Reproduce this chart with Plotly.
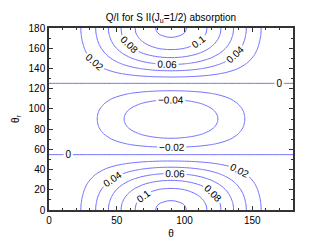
import plotly.graph_objects as go
import numpy as np

# Angle grids (degrees)
theta = [0, 5, 10, 15, 20, 25, 30, 35, 40, 45, 50, 55, 60, 65, 70, 75, 80, 85, 90,
         95, 100, 105, 110, 115, 120, 125, 130, 135, 140, 145, 150, 155, 160, 165, 170, 175, 180]
theta_r = list(theta)

prof_theta = [0.0005, 0.0076, 0.0302, 0.0670, 0.1170, 0.1786, 0.25, 0.3290, 0.4132, 0.5,
              0.5868, 0.6710, 0.75, 0.8214, 0.8830, 0.9330, 0.9698, 0.9924, 1.0,
              0.9924, 0.9698, 0.9330, 0.8830, 0.8214, 0.75, 0.6710, 0.5868, 0.5,
              0.4132, 0.3290, 0.25, 0.1786, 0.1170, 0.0670, 0.0302, 0.0076, 0.0005]

prof_theta_r = [0.125, 0.1236, 0.1193, 0.1124, 0.1031, 0.0915, 0.0781, 0.0633, 0.0475,
                0.0313, 0.0150, -0.0008, -0.0148, -0.0274, -0.0383, -0.0471, -0.0537,
                -0.0577, -0.059,
                -0.0577, -0.0537, -0.0471, -0.0383, -0.0274, -0.0148, -0.0008, 0.0150,
                0.0313, 0.0475, 0.0633, 0.0781, 0.0915, 0.1031, 0.1124, 0.1193, 0.1236,
                0.125]

z = np.outer(np.array(prof_theta_r), np.array(prof_theta))

line_color = "#6f6fff"
font_family = "Liberation Sans, Arial, sans-serif"

fig = go.Figure(go.Contour(
    x=theta, y=theta_r, z=z,
    contours=dict(start=-0.04, end=0.12, size=0.02, coloring="lines",
                  showlabels=True,
                  labelfont=dict(size=10, color="black", family=font_family)),
    colorscale=[[0, line_color], [1, line_color]],
    showscale=False,
    line=dict(width=1, smoothing=1.3),
    hoverinfo="skip",
))

axis_common = dict(
    showgrid=False, zeroline=False,
    showline=True, linecolor="#333", linewidth=1.5, mirror="allticks",
    ticks="inside", ticklen=4, tickcolor="#333",
    tickfont=dict(size=10, color="black", family=font_family),
)

plot_w = 316 - 41 - 31

fig.update_layout(
    width=316, height=242,
    margin=dict(l=41, r=31, t=20, b=27),
    paper_bgcolor="white", plot_bgcolor="white",
    font=dict(family=font_family, size=10, color="black"),
    title=dict(text="Q/I for S II(J<sub>u</sub>=1/2) absorption",
               x=(41 + 285) / 2 / 316, xanchor="center", y=0.975, yanchor="top",
               font=dict(size=10, color="black", family=font_family)),
    xaxis=dict(range=[0, 180], tickvals=[0, 50, 100, 150],
               title=dict(text="θ", standoff=5, font=dict(size=10)),
               minor=dict(ticks="inside", ticklen=2, tickcolor="#333", dtick=10),
               **axis_common),
    yaxis=dict(range=[0, 180], dtick=20, tick0=0,
               minor=dict(ticks="inside", ticklen=2, tickcolor="#333", dtick=10),
               **axis_common),
    annotations=[dict(text="θ<sub>r</sub>", xref="paper", yref="paper",
                      x=(8 - 41) / plot_w, y=0.5, xanchor="center", yanchor="middle",
                      textangle=-90, showarrow=False,
                      font=dict(size=10, color="black", family=font_family))],
)

fig.write_html("out.html")
